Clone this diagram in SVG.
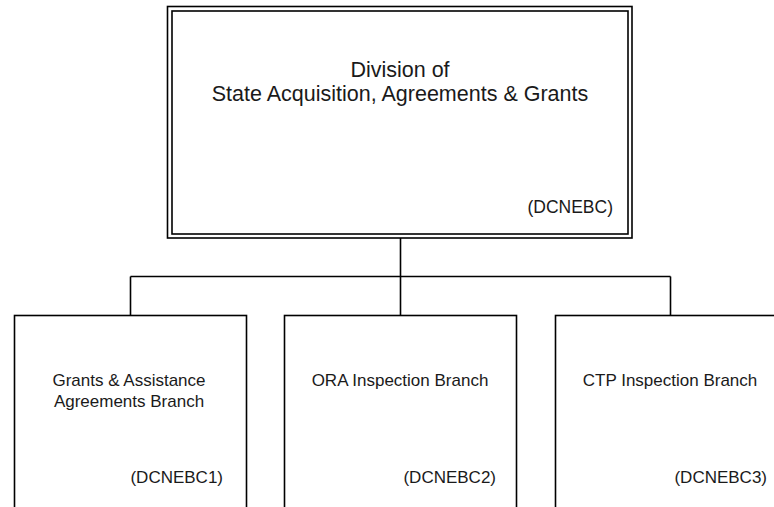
<svg xmlns="http://www.w3.org/2000/svg" width="774" height="507" viewBox="0 0 774 507">
<style>
.box{fill:#fff;stroke:#000;stroke-width:1.6}
.dbl{fill:none;stroke:#000;stroke-width:1.6}
.con{fill:none;stroke:#000;stroke-width:1.6}
text{font-family:"Liberation Sans",Arial,sans-serif;fill:#1a1a1a}
.t{font-size:21.5px;text-anchor:middle}
.s{font-size:17px;text-anchor:middle}
.c{font-size:17px;text-anchor:end}
.cb{font-size:17.5px;text-anchor:end}
</style>
<rect width="774" height="507" fill="#fff"/>
<g id="connectors">
<path class="con" d="M400.5 238V276.5M130.5 276.5H670.5M130.5 276.5V315.5M400.5 276.5V315.5M670.5 276.5V315.5"/>
</g>
<g id="division">
<rect x="167.5" y="6.5" width="464.5" height="231.5" fill="#fff" class="dbl"/>
<rect x="172" y="11" width="456" height="223" class="dbl"/>
<text class="t" x="400" y="76.5">Division of</text>
<text class="t" x="400" y="100.5">State Acquisition, Agreements &amp; Grants</text>
<text class="cb" x="613" y="213">(DCNEBC)</text>
</g>
<g id="branch1">
<rect class="box" x="14.5" y="315.5" width="232" height="200"/>
<text class="s" x="129" y="386">Grants &amp; Assistance</text>
<text class="s" x="129" y="407">Agreements Branch</text>
<text class="c" x="223" y="483">(DCNEBC1)</text>
</g>
<g id="branch2">
<rect class="box" x="284.5" y="315.5" width="232" height="200"/>
<text class="s" x="400" y="386">ORA Inspection Branch</text>
<text class="c" x="496" y="483">(DCNEBC2)</text>
</g>
<g id="branch3">
<rect class="box" x="555.5" y="315.5" width="232" height="200"/>
<text class="s" x="670" y="386">CTP Inspection Branch</text>
<text class="c" x="767" y="483">(DCNEBC3)</text>
</g>
</svg>
